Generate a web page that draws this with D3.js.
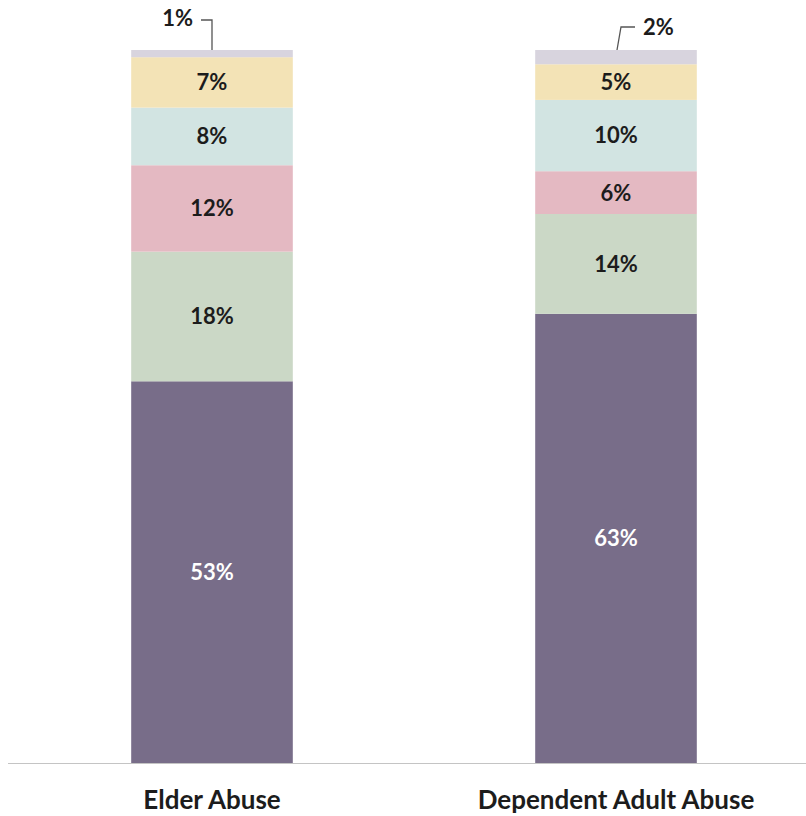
<!DOCTYPE html>
<html>
<head>
<meta charset="utf-8">
<script src="https://cdn.jsdelivr.net/npm/d3@7/dist/d3.min.js"></script>
<style>
  html, body { margin: 0; padding: 0; background: #fff; }
  svg { display: block; }
  text { font-family: Lato, "Open Sans", sans-serif; font-weight: bold; }
</style>
</head>
<body>
<svg id="chart" width="806" height="816"></svg>
<script>
// ---- Data ----
const categories = ["Elder Abuse", "Dependent Adult Abuse"];
const seriesNames = ["s1", "s2", "s3", "s4", "s5", "s6"]; // bottom to top
const elderValues = [53, 18, 12, 8, 7, 1];
const dependentValues = [63, 14, 6, 10, 5, 2];
const seriesColors = ["#786d89", "#cbd8c6", "#e4b9c2", "#d2e4e2", "#f3e3b6", "#d8d4de"];
const labelColors = ["#ffffff", "#1c1c1c", "#1c1c1c", "#1c1c1c", "#1c1c1c", "#1c1c1c"];

const rows = categories.map((c, i) => {
  const vals = i === 0 ? elderValues : dependentValues;
  const r = { category: c };
  seriesNames.forEach((s, j) => r[s] = vals[j]);
  return r;
});

const svg = d3.select("#chart");
const baseY = 763, topY = 50;

const x = d3.scaleBand().domain(categories).range([10, 818]).paddingInner(0.6).paddingOuter(0.3);
const y = d3.scaleLinear().domain([0, 1]).range([baseY, topY]);

const stack = d3.stack().keys(seriesNames).offset(d3.stackOffsetExpand);
const stacked = stack(rows);

// baseline
svg.append("line")
  .attr("x1", 8).attr("x2", 806)
  .attr("y1", baseY + 0.5).attr("y2", baseY + 0.5)
  .attr("stroke", "#c4c4c4").attr("stroke-width", 1.2);

// bars
const layers = svg.append("g").selectAll("g").data(stacked).join("g")
  .attr("fill", (d, i) => seriesColors[i]);
layers.selectAll("rect").data(d => d).join("rect")
  .attr("x", d => x(d.data.category))
  .attr("width", x.bandwidth())
  .attr("y", d => y(d[1]))
  .attr("height", d => y(d[0]) - y(d[1]));

// inside labels (all but the top thin segment)
stacked.forEach((layer, li) => {
  if (li === seriesNames.length - 1) return;
  svg.append("g").selectAll("text").data(layer).join("text")
    .attr("x", d => x(d.data.category) + x.bandwidth() / 2)
    .attr("y", d => (y(d[0]) + y(d[1])) / 2)
    .attr("dy", "0.36em")
    .attr("text-anchor", "middle")
    .attr("font-size", 22)
    .attr("fill", labelColors[li])
    .text(d => d.data[layer.key] + "%");
});

// top segment labels with leader lines
const topLayer = stacked[seriesNames.length - 1];
const topKey = topLayer.key;
// Elder Abuse: label to the left
{
  const d = topLayer[0];
  const cx = x(d.data.category) + x.bandwidth() / 2;
  const ty = y(d[1]);
  svg.append("path")
    .attr("d", `M${cx},${ty} L${cx},${ty - 30} L${cx - 11},${ty - 30}`)
    .attr("fill", "none").attr("stroke", "#555").attr("stroke-width", 1.3);
  svg.append("text")
    .attr("x", cx - 19).attr("y", ty - 32).attr("dy", "0.36em")
    .attr("text-anchor", "end").attr("font-size", 22).attr("fill", "#1c1c1c")
    .text(d.data[topKey] + "%");
}
// Dependent Adult Abuse: label to the right
{
  const d = topLayer[1];
  const cx = x(d.data.category) + x.bandwidth() / 2;
  const ty = y(d[1]);
  svg.append("path")
    .attr("d", `M${cx + 1},${ty} L${cx + 5},${ty - 23} L${cx + 19},${ty - 23}`)
    .attr("fill", "none").attr("stroke", "#555").attr("stroke-width", 1.3);
  svg.append("text")
    .attr("x", cx + 27).attr("y", ty - 23).attr("dy", "0.36em")
    .attr("text-anchor", "start").attr("font-size", 22).attr("fill", "#1c1c1c")
    .text(d.data[topKey] + "%");
}

// x axis labels
const xAxis = d3.axisBottom(x).tickSize(0).tickPadding(0);
const gx = svg.append("g").attr("transform", `translate(0,${baseY})`).call(xAxis);
gx.select(".domain").remove();
gx.selectAll("text")
  .attr("y", 46)
  .attr("dy", 0)
  .attr("font-size", 26)
  .attr("font-family", "Lato, 'Open Sans', sans-serif")
  .attr("font-weight", "bold")
  .attr("fill", "#1c1c1c");
</script>
</body>
</html>
